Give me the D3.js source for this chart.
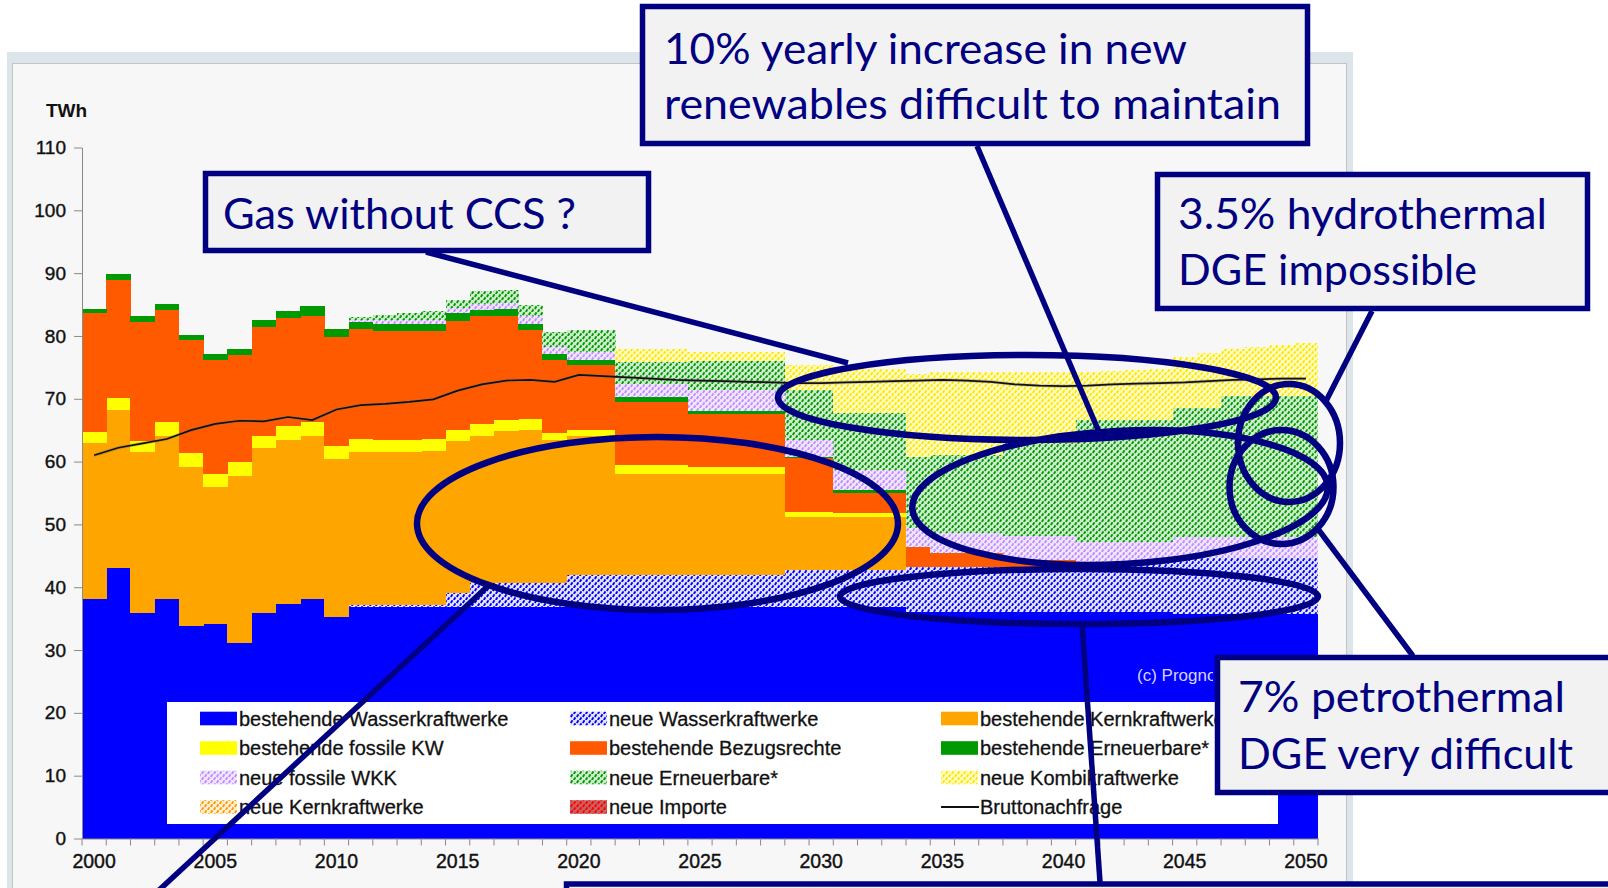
<!DOCTYPE html>
<html><head><meta charset="utf-8">
<script src="https://cdn.jsdelivr.net/npm/d3@7"></script>
<style>body{margin:0;background:#fff}svg{display:block}</style>
</head><body><svg id="c" width="1608" height="888"></svg>
<script>
// ---------------- DATA (TWh) ----------------
const years = [2000,2001,2002,2003,2004,2005,2006,2007,2008,2009,2010,2011,2012,2013,2014,2015,2016,2017,2018,2019,2020,2021,2022,2023,2024,2025,2026,2027,2028,2029,2030,2031,2032,2033,2034,2035,2036,2037,2038,2039,2040,2041,2042,2043,2044,2045,2046,2047,2048,2049,2050];
const xTickLabels = [2000,2005,2010,2015,2020,2025,2030,2035,2040,2045,2050];
const yTickLabels = [0,10,20,30,40,50,60,70,80,90,100,110];

const bestWasser = [38.2,43.0,35.9,38.1,33.8,34.1,31.2,35.9,37.4,38.1,35.2,
  36.9,36.9,36.9,36.9,36.9,36.9,36.9,36.9,36.9,36.9,36.9,36.9,36.9,36.9,36.9,36.9,36.9,36.9,36.9,36.9,36.9,36.9,36.9,
  36.0,36.0,36.0,36.0,36.0,36.0,36.0,36.0,36.0,36.0,36.0,
  35.7,35.7,35.7,35.7,35.7,35.7];
const neuWasser = [0,0,0,0,0,0,0,0,0,0,0,
  0.3,0.3,0.3,0.3,2.2,3.8,3.8,3.8,3.8,
  5.0,5.0,5.0,5.0,5.0,5.0,5.0,5.0,5.0,
  5.8,5.8,5.8,5.8,5.8,
  7.2,7.2,7.2,7.2,7.2,7.2,7.2,
  7.8,7.8,7.8,7.8,
  8.9,8.9,8.9,8.9,8.9,8.9];
const bestKern = [24.7,25.2,25.6,25.9,25.4,21.8,26.5,26.3,26.0,26.0,25.2,
  24.4,24.4,24.4,24.5,24.1,23.4,24.1,24.3,22.7,22.2,22.2,
  16.2,16.2,16.2,16.1,16.1,16.1,16.1,
  8.5,8.5,8.5,8.5,8.5,
  0,0,0,0,0,0,0,0,0,0,0,0,0,0,0,0,0];
const bestFossil = [1.8,1.9,1.8,2.3,2.2,2.2,2.2,1.9,2.3,2.2,2.1,
  2.0,1.8,1.8,1.9,1.8,1.9,1.8,1.8,1.1,0.9,0.9,
  1.4,1.4,1.4,1.2,1.2,1.2,1.2,
  0.8,0.8,0.6,0.6,0.6,
  0,0,0,0,0,0,0,0,0,0,0,0,0,0,0,0,0];
const bestBezug = [18.9,18.8,18.9,17.8,18.0,18.0,17.1,17.4,17.1,16.9,17.4,
  17.5,17.4,17.4,17.2,17.4,17.1,16.6,14.1,11.7,10.4,10.4,
  10.0,10.0,10.0,8.3,8.3,8.3,8.3,
  8.5,8.5,3.2,3.2,3.2,
  3.2,2.2,2.2,2.2,1.2,1.2,1.2,
  0,0,0,0,0,0,0,0,0,0];
const bestErn = [0.7,1.0,0.9,1.0,0.7,1.0,1.0,1.1,1.2,1.5,1.2,
  1.2,1.1,1.1,1.1,1.2,1.0,1.1,1.0,1.0,0.8,0.8,
  0.8,0.8,0.8,0.6,0.6,0.6,0.6,
  0.3,0.3,0.5,0.5,0.5,
  0,0,0,0,0,0,0,0,0,0,0,0,0,0,0,0,0];
const neuFossilWKK = [0,0,0,0,0,0,0,0,0,0,0,
  0.2,0.6,0.6,0.6,0.8,1.0,1.0,1.2,1.1,1.3,1.3,
  2.0,2.0,2.0,3.3,3.3,3.3,3.3,
  2.6,2.6,3.2,3.2,3.2,
  3.0,3.2,3.2,3.2,3.8,3.8,3.8,
  3.4,3.4,3.4,3.4,
  3.4,3.4,3.4,3.4,3.4,3.4];
const neuErn = [0,0,0,0,0,0,0,0,0,0,0,
  0.5,0.8,1.1,1.4,1.4,2.1,2.0,1.8,2.4,3.4,3.4,
  3.6,3.6,3.6,4.6,4.6,4.6,4.6,
  8.0,8.0,9.0,9.0,9.0,
  11.4,12.4,12.4,12.4,14.8,14.8,14.8,
  19.4,19.4,19.4,19.4,
  20.5,20.5,22.5,22.5,22.5,22.5];
const neuKombi = [0,0,0,0,0,0,0,0,0,0,0,
  0,0,0,0,0,0,0,0,0,0,0,
  2.1,2.1,2.1,1.5,1.5,1.5,1.5,
  4.0,4.0,7.1,7.1,7.1,
  13.2,13.2,13.2,13.2,11.2,11.2,11.2,
  7.7,7.8,8.0,8.2,
  8.2,8.8,7.4,7.7,8.1,8.4];
const neuKern = [0,0,0,0,0,0,0,0,0,0,0,0,0,0,0,0,0,0,0,0,0,0,0,0,0,0,0,0,0,0,0,0,0,0,0,0,0,0,0,0,0,0,0,0,0,0,0,0,0,0,0];
const neuImporte = [0,0,0,0,0,0,0,0,0,0,0,0,0,0,0,0,0,0,0,0,0,0,0,0,0,0,0,0,0,0,0,0,0,0,0,0,0,0,0,0,0,0,0,0,0,0,0,0,0,0,0];
const bruttonachfrage = [61.0,62.2,62.9,63.6,65.0,66.0,66.5,66.4,67.1,66.6,68.3,
  69.0,69.2,69.5,69.9,71.3,72.3,72.9,73.0,72.7,73.8,73.6,
  73.4,73.2,73.0,72.9,72.8,72.7,72.6,72.5,72.5,72.6,72.7,72.8,
  72.9,73.0,72.9,72.7,72.3,72.1,72.0,72.1,72.3,72.4,72.5,
  72.6,72.8,73.0,73.1,73.2,73.2];

const seriesNames = ["bestehende Wasserkraftwerke","neue Wasserkraftwerke","bestehende Kernkraftwerke",
  "bestehende fossile KW","bestehende Bezugsrechte","bestehende Erneuerbare*",
  "neue fossile WKK","neue Erneuerbare*","neue Kombikraftwerke","neue Kernkraftwerke","neue Importe"];
const seriesValues = [bestWasser,neuWasser,bestKern,bestFossil,bestBezug,bestErn,neuFossilWKK,neuErn,neuKombi,neuKern,neuImporte];
const lineName = "Bruttonachfrage";
const legendOrder = ["bestehende Wasserkraftwerke","neue Wasserkraftwerke","bestehende Kernkraftwerke",
  "bestehende fossile KW","bestehende Bezugsrechte","bestehende Erneuerbare*",
  "neue fossile WKK","neue Erneuerbare*","neue Kombikraftwerke",
  "neue Kernkraftwerke","neue Importe","Bruttonachfrage"];

// ---------------- STYLE ----------------
const fills = {
  "bestehende Wasserkraftwerke":{solid:"#0000ff"},
  "neue Wasserkraftwerke":{bg:"#e4e4ff",fg:"#0000ff"},
  "bestehende Kernkraftwerke":{solid:"#ffa500"},
  "bestehende fossile KW":{solid:"#ffff00"},
  "bestehende Bezugsrechte":{solid:"#ff5a00"},
  "bestehende Erneuerbare*":{solid:"#009900"},
  "neue fossile WKK":{bg:"#f1e6ff",fg:"#c08cff"},
  "neue Erneuerbare*":{bg:"#cfeccf",fg:"#009a00"},
  "neue Kombikraftwerke":{bg:"#fffcc4",fg:"#ffe600"},
  "neue Kernkraftwerke":{bg:"#fff0d8",fg:"#ff9900"},
  "neue Importe":{bg:"#c86060",fg:"#ff0000"}
};
const navy = "#000080";

const svg = d3.select("#c");
const defs = svg.append("defs");
seriesNames.forEach((n,i)=>{
  const f = fills[n];
  if (f.solid) { f.paint = f.solid; return; }
  const id = "pat"+i;
  const p = defs.append("pattern").attr("id",id).attr("patternUnits","userSpaceOnUse")
    .attr("width",6).attr("height",6);
  p.append("rect").attr("width",6).attr("height",6).attr("fill",f.bg);
  p.append("path").attr("d","M0.8,2.9 L2.5,0.3 M3.8,5.9 L5.5,3.3")
    .attr("stroke",f.fg).attr("stroke-width",1.9).attr("fill","none");
  f.paint = `url(#${id})`;
});
defs.append("clipPath").attr("id","progClip").append("rect").attr("x",1100).attr("y",640).attr("width",113).attr("height",60);

// ---------------- FRAME ----------------
svg.append("rect").attr("width",1608).attr("height",888).attr("fill","#fff");
svg.append("rect").attr("x",7).attr("y",52).attr("width",1346).attr("height",840).attr("fill","#dce5ea");
svg.append("rect").attr("x",12.5).attr("y",63.5).attr("width",1334).attr("height",830)
  .attr("fill","#f7f7f7").attr("stroke","#c4c4c4").attr("stroke-width",1);

// ---------------- SCALES ----------------
const x = d3.scaleBand().domain(years).range([82,1318]).paddingInner(0).paddingOuter(0);
const y = d3.scaleLinear().domain([0,110]).range([838.5,147.5]);
const bw = x.bandwidth();

const table = years.map((yr,i)=>{
  const row = {year:yr};
  seriesNames.forEach((n,k)=>row[n]=seriesValues[k][i]);
  return row;
});
const stacked = d3.stack().keys(seriesNames)(table);

const gBars = svg.append("g").attr("shape-rendering","crispEdges");
stacked.forEach(s=>{
  gBars.append("g").attr("fill",fills[s.key].paint)
    .selectAll("rect").data(s.filter(d=>d[1]-d[0]>0)).join("rect")
    .attr("x",d=>x(d.data.year)).attr("width",bw+0.4)
    .attr("y",d=>y(d[1])).attr("height",d=>y(d[0])-y(d[1]));
});

// demand line
const line = d3.line().x((d,i)=>x(years[i])+bw/2).y(d=>y(d));
svg.append("path").datum(bruttonachfrage).attr("d",line)
  .attr("fill","none").attr("stroke","#777").attr("stroke-width",3.4).attr("stroke-opacity",0.35);
svg.append("path").datum(bruttonachfrage).attr("d",line)
  .attr("fill","none").attr("stroke","#111").attr("stroke-width",1.7);

// ---------------- AXES ----------------
const axisFont = "'Liberation Sans', Arial, sans-serif";
const gy = svg.append("g").attr("transform","translate(82,0)")
  .call(d3.axisLeft(y).tickValues(yTickLabels).tickSize(8).tickSizeOuter(0).tickPadding(8));
gy.select(".domain").attr("stroke","#8a8a8a");
gy.selectAll(".tick line").attr("stroke","#8a8a8a");
gy.selectAll("text").attr("font-family",axisFont).attr("font-size",19).attr("fill","#111")
  .attr("stroke","#111").attr("stroke-width",0.4);

const gx = svg.append("g").attr("transform","translate(0,838.5)")
  .call(d3.axisBottom(x).tickValues(xTickLabels).tickSize(0).tickSizeOuter(0).tickPadding(15.5));
gx.select(".domain").attr("stroke","#8a8a8a");
gx.selectAll("text").attr("font-family",axisFont).attr("font-size",19.5).attr("fill","#111")
  .attr("stroke","#111").attr("stroke-width",0.4);
gx.selectAll(".yb").data(years.concat([null])).join("line")
  .attr("x1",d=>d===null? x(2050)+bw : x(d)).attr("x2",d=>d===null? x(2050)+bw : x(d))
  .attr("y1",0).attr("y2",7).attr("stroke","#8a8a8a");

svg.append("text").attr("x",46).attr("y",117).text("TWh")
  .attr("font-family",axisFont).attr("font-size",19).attr("font-weight","bold").attr("fill","#111");

// ---------------- LEGEND ----------------
svg.append("rect").attr("x",167).attr("y",702).attr("width",1111).attr("height",122).attr("fill","#fff");
const colX = [200,570,941];
const rowY = [718.5,748,777.5,807];
const gl = svg.append("g");
legendOrder.forEach((n,i)=>{
  const cx = colX[i%3], cy = rowY[Math.floor(i/3)];
  if (n===lineName) {
    gl.append("line").attr("x1",cx).attr("x2",cx+38).attr("y1",cy).attr("y2",cy)
      .attr("stroke","#111").attr("stroke-width",1.8);
  } else {
    gl.append("rect").attr("x",cx).attr("y",cy-6.8).attr("width",37).attr("height",13.6)
      .attr("fill",fills[n].paint);
  }
  gl.append("text").attr("x",cx+39).attr("y",cy+7).text(n)
    .attr("font-family",axisFont).attr("font-size",20).attr("fill","#111")
    .attr("stroke","#111").attr("stroke-width",0.3);
});
svg.append("text").attr("x",1137).attr("y",681).text("(c) Prognos")
  .attr("clip-path","url(#progClip)")
  .attr("font-family",axisFont).attr("font-size",17).attr("fill","#d8d2ff");

// ---------------- ANNOTATIONS ----------------
const ga = svg.append("g").attr("stroke",navy).attr("fill","none");
const connectors = [[426,252,848,363],[977,146,1099,432],[1372,311,1325,403],[1318,529,1413,656],[1082,624,1100,882],[157,892,488,586]];
connectors.forEach(c=>ga.append("line").attr("x1",c[0]).attr("y1",c[1]).attr("x2",c[2]).attr("y2",c[3]).attr("stroke-width",5.5));
const ellipses = [[657.5,523.5,240.5,86.5,0],[1027,397.5,249,42.5,0],[1120,497.5,208,66.5,-3],[1079,596.5,239,27.5,0],[1289,443,51,59,0],[1281.5,487,52,57,0]];
ellipses.forEach(e=>ga.append("ellipse").attr("cx",e[0]).attr("cy",e[1]).attr("rx",e[2]).attr("ry",e[3])
  .attr("transform",`rotate(${e[4]},${e[0]},${e[1]})`).attr("stroke-width",6.5));
const boxes = [
  {x:642.5,y:6.5,w:665,h:137,lines:[["10% yearly increase in new",664,63.5,523],["renewables difficult to maintain",664,118.5,617]]},
  {x:205.5,y:173.5,w:443,h:77,lines:[["Gas without CCS ?",223,228.5,353]]},
  {x:1157.5,y:174.5,w:430,h:134,lines:[["3.5% hydrothermal",1178,228.5,369],["DGE impossible",1178,285,299]]},
  {x:1217.5,y:657.5,w:420,h:135,lines:[["7% petrothermal",1238,711.5,327],["DGE very difficult",1238,768.5,335]]},
  {x:566.5,y:884,w:1100,h:60,lines:[]}
];
boxes.forEach(b=>{
  svg.append("rect").attr("x",b.x).attr("y",b.y).attr("width",b.w).attr("height",b.h)
    .attr("fill","#f2f2f2").attr("stroke",navy).attr("stroke-width",5.5);
  b.lines.forEach(l=>svg.append("text").attr("x",l[1]).attr("y",l[2]).text(l[0])
    .attr("font-family","Lato, 'Open Sans', sans-serif").attr("font-size",42).attr("fill",navy)
    .attr("textLength",l[3]).attr("lengthAdjust","spacingAndGlyphs"));
});
</script></body></html>
